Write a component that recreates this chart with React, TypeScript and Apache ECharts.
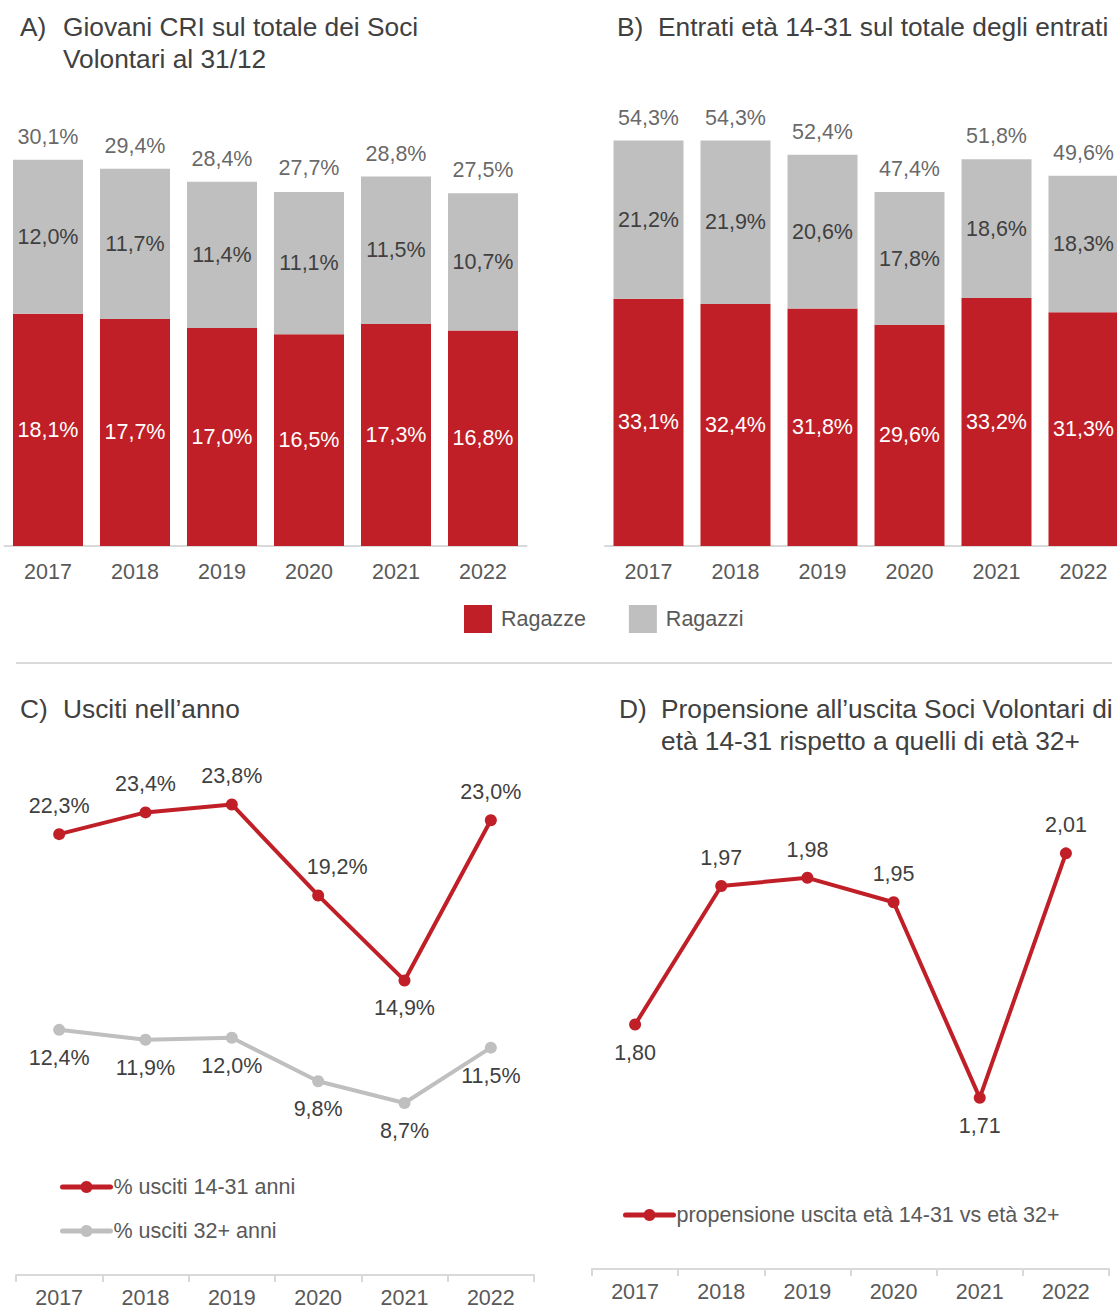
import React, { useEffect, useRef } from "react";
import * as echarts from "echarts";

const years = ["2017", "2018", "2019", "2020", "2021", "2022"];

// Chart A
const aRagazze = [18.1, 17.7, 17.0, 16.5, 17.3, 16.8];
const aRagazzi = [12.0, 11.7, 11.4, 11.1, 11.5, 10.7];
const aTotali = [30.1, 29.4, 28.4, 27.7, 28.8, 27.5];

// Chart B
const bRagazze = [33.1, 32.4, 31.8, 29.6, 33.2, 31.3];
const bRagazzi = [21.2, 21.9, 20.6, 17.8, 18.6, 18.3];
const bTotali = [54.3, 54.3, 52.4, 47.4, 51.8, 49.6];

// Chart C
const usciti1431 = [22.3, 23.4, 23.8, 19.2, 14.9, 23.0];
const usciti32 = [12.4, 11.9, 12.0, 9.8, 8.7, 11.5];

// Chart D
const propensione = [1.8, 1.97, 1.98, 1.95, 1.71, 2.01];

const RED = "#C01F27";
const GREY = "#BFBFBF";
const TXT = "#404040";
const AXT = "#595959";
const LINE = "#D9D9D9";
const FONT = "'Liberation Sans', Arial, sans-serif";
const FS = 21.5;

const pct = (v: number) => v.toFixed(1).replace(".", ",") + "%";
const dec2 = (v: number) => v.toFixed(2).replace(".", ",");

export default function App() {
  const ref = useRef<HTMLDivElement>(null);
  useEffect(() => {
    if (!ref.current) return;
    const chart = echarts.init(ref.current, undefined, { renderer: "svg" });

    const titleStyle = { fontSize: 26.3, fontWeight: "normal" as const, color: TXT, fontFamily: FONT, lineHeight: 32 };
    const mkTitle = (text: string, left: number, top: number) => ({ text, left, top, padding: 0, textStyle: titleStyle });

    const catAxisBar = (gridIndex: number) => ({
      type: "category",
      gridIndex,
      data: years,
      axisLine: { show: true, lineStyle: { color: LINE, width: 2 } },
      axisTick: { show: false },
      axisLabel: { color: AXT, fontSize: FS, fontFamily: FONT, margin: 15 },
    });
    const catAxisLine = (gridIndex: number) => ({
      type: "category",
      gridIndex,
      data: years,
      boundaryGap: true,
      axisLine: { show: true, lineStyle: { color: LINE, width: 2 } },
      axisTick: { show: true, length: 7, lineStyle: { color: LINE, width: 2 } },
      axisLabel: { color: AXT, fontSize: FS, fontFamily: FONT, margin: 12 },
    });
    const valAxis = (gridIndex: number, min: number, max: number) => ({
      type: "value",
      gridIndex,
      min,
      max,
      show: false,
      splitLine: { show: false },
    });

    const barLabel = (color: string) => ({
      show: true,
      position: "inside",
      color,
      fontSize: FS,
      fontFamily: FONT,
      formatter: (p: any) => pct(p.value),
    });

    const barSeries = (idx: number, ragazze: number[], ragazzi: number[], totali: number[]) => [
      {
        name: "Ragazze",
        type: "bar",
        xAxisIndex: idx,
        yAxisIndex: idx,
        stack: "s" + idx,
        barWidth: 70,
        data: ragazze,
        itemStyle: { color: RED },
        label: barLabel("#FFFFFF"),
      },
      {
        name: "Ragazzi",
        type: "bar",
        xAxisIndex: idx,
        yAxisIndex: idx,
        stack: "s" + idx,
        barWidth: 70,
        data: ragazzi,
        itemStyle: { color: GREY },
        label: barLabel(TXT),
      },
      {
        name: "Totale" + idx,
        type: "scatter",
        xAxisIndex: idx,
        yAxisIndex: idx,
        symbolSize: 0,
        silent: true,
        data: totali,
        itemStyle: { color: "transparent" },
        label: {
          show: true,
          position: "top",
          distance: 12,
          color: TXT,
          fontSize: FS,
          fontFamily: FONT,
          formatter: (p: any) => pct(p.value),
        },
      },
    ];

    const lineLabel = { show: true, color: TXT, fontSize: FS, fontFamily: FONT, distance: 11 };
    const lineLegend = {
      itemWidth: 48,
      itemHeight: 15,
      padding: 0,
      lineStyle: { width: 5, cap: "round" },
      textStyle: { color: AXT, fontSize: FS, fontFamily: FONT, padding: [0, 0, 0, -2] },
    };

    const option: any = {
      animation: false,
      backgroundColor: "#FFFFFF",
      title: [
        mkTitle("A)", 20, 11),
        mkTitle("Giovani CRI sul totale dei Soci\nVolontari al 31/12", 63, 11),
        mkTitle("B)", 617, 11),
        mkTitle("Entrati età 14-31 sul totale degli entrati", 658, 11),
        mkTitle("C)", 20, 693),
        mkTitle("Usciti nell’anno", 63, 693),
        mkTitle("D)", 619, 693),
        mkTitle("Propensione all’uscita Soci Volontari di\netà 14-31 rispetto a quelli di età 32+", 661, 693),
      ],
      grid: [
        { left: 4.5, top: 97, width: 522, height: 449 },
        { left: 605, top: 98, width: 522, height: 448 },
        { left: 16, top: 761, width: 518, height: 515 },
        { left: 592, top: 780, width: 517, height: 489 },
      ],
      xAxis: [catAxisBar(0), catAxisBar(1), catAxisLine(2), catAxisLine(3)],
      yAxis: [valAxis(0, 0, 35), valAxis(1, 0, 60), valAxis(2, 0, 26), valAxis(3, 1.5, 2.1)],
      legend: [
        {
          data: ["Ragazze", "Ragazzi"],
          left: 464,
          top: 605,
          icon: "rect",
          itemWidth: 28,
          itemHeight: 28,
          itemGap: 43,
          padding: 0,
          textStyle: { color: AXT, fontSize: FS, fontFamily: FONT, padding: [0, 0, 0, 4] },
        },
        {
          ...lineLegend,
          data: ["% usciti 14-31 anni", "% usciti 32+ anni"],
          orient: "vertical",
          left: 60,
          top: 1176,
          itemGap: 22,
        },
        {
          ...lineLegend,
          data: ["propensione uscita età 14-31 vs età 32+"],
          left: 623,
          top: 1204,
        },
      ],
      graphic: [
        {
          type: "line",
          shape: { x1: 16, y1: 663, x2: 1112, y2: 663 },
          style: { stroke: LINE, lineWidth: 2 },
        },
      ],
      series: [
        ...barSeries(0, aRagazze, aRagazzi, aTotali),
        ...barSeries(1, bRagazze, bRagazzi, bTotali),
        {
          name: "% usciti 14-31 anni",
          type: "line",
          xAxisIndex: 2,
          yAxisIndex: 2,
          symbol: "circle",
          symbolSize: 12,
          lineStyle: { color: RED, width: 4 },
          itemStyle: { color: RED },
          data: usciti1431.map((v, i) => ({
            value: v,
            label: i === 4 ? { position: "bottom" } : i === 3 ? { position: "top", offset: [19, 0] } : { position: "top" },
          })),
          label: { ...lineLabel, position: "top", formatter: (p: any) => pct(p.value) },
        },
        {
          name: "% usciti 32+ anni",
          type: "line",
          xAxisIndex: 2,
          yAxisIndex: 2,
          symbol: "circle",
          symbolSize: 12,
          lineStyle: { color: GREY, width: 4 },
          itemStyle: { color: GREY },
          data: usciti32,
          label: { ...lineLabel, position: "bottom", formatter: (p: any) => pct(p.value) },
        },
        {
          name: "propensione uscita età 14-31 vs età 32+",
          type: "line",
          xAxisIndex: 3,
          yAxisIndex: 3,
          symbol: "circle",
          symbolSize: 12,
          lineStyle: { color: RED, width: 4 },
          itemStyle: { color: RED },
          data: propensione.map((v, i) => ({
            value: v,
            label: { position: i === 0 || i === 4 ? "bottom" : "top" },
          })),
          label: { ...lineLabel, formatter: (p: any) => dec2(p.value) },
        },
      ],
    };

    chart.setOption(option);
    return () => chart.dispose();
  }, []);

  return (
    <div style={{ position: "absolute", left: 0, top: 0, width: 1117, height: 1309, overflow: "hidden" }}>
      <div ref={ref} style={{ width: 1140, height: 1309 }} />
    </div>
  );
}
